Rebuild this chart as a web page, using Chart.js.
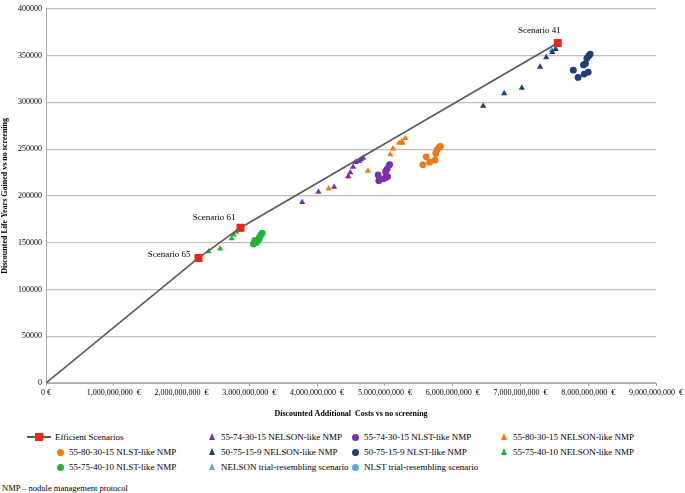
<!DOCTYPE html>
<html>
<head>
<meta charset="utf-8">
<script src="https://cdn.jsdelivr.net/npm/chart.js@4.4.0/dist/chart.umd.min.js"></script>
<style>
  body { margin: 0; background: #fff; font-family: "Liberation Serif", "DejaVu Serif", serif; }
  #wrap { position: relative; width: 685px; height: 493px; overflow: hidden; }
  #chartBox { position: absolute; left: 0; top: 0; width: 685px; height: 419px; }
  .item { position: absolute; white-space: nowrap; font-size: 9px; line-height: 10px; color: #000; }
  .mk { position: absolute; }
  #note { position: absolute; left: 2px; top: 483px; font-size: 8.5px; color: #000; }
</style>
</head>
<body>
<div id="wrap">
  <div id="chartBox"><canvas id="costChart"></canvas></div>
  <div id="legend"></div>
  <div id="note">NMP – nodule management protocol</div>
</div>
<script>
// 数据: [成本 €, 获得的生命年]
const efficientScenarios = [[0, 0], [2.25e9, 133700], [2.87e9, 166000], [7.55e9, 363500]];
const scenarioLabels = ['', 'Scenario 65', 'Scenario 61', 'Scenario 41'];

const nelson55743015 = [[3.78e9, 193200], [4.02e9, 204200], [4.25e9, 209500], [4.46e9, 220700], [4.49e9, 225000],
  [4.53e9, 231000], [4.57e9, 236000], [4.62e9, 237200], [4.65e9, 239000], [4.68e9, 240700]];
const nlst55743015 = [[4.90e9, 222400], [4.91e9, 216300], [4.98e9, 218200], [5.01e9, 219500], [5.04e9, 220700],
  [5.01e9, 225800], [5.03e9, 228400], [5.07e9, 233400]];
const nelson55803015 = [[4.17e9, 207700], [4.46e9, 220700], [4.75e9, 226600], [5.08e9, 244200], [5.12e9, 250500],
  [5.21e9, 256500], [5.25e9, 258200], [5.26e9, 256500], [5.30e9, 261600]];
const nlst55803015 = [[5.56e9, 233200], [5.61e9, 241800], [5.66e9, 236000], [5.74e9, 238200], [5.75e9, 245300],
  [5.77e9, 249200], [5.80e9, 251900], [5.82e9, 253000]];
const nelson5075159 = [[6.45e9, 296100], [6.76e9, 309500], [7.02e9, 315500], [7.29e9, 337900], [7.38e9, 348100],
  [7.47e9, 353700], [7.52e9, 356800]];
const nlst5075159 = [[7.78e9, 334400], [7.85e9, 326600], [7.94e9, 330200], [8.00e9, 332300], [7.93e9, 340000],
  [7.96e9, 341400], [7.98e9, 347100], [8.01e9, 349800], [8.03e9, 351600]];
const nelson55754010 = [[2.40e9, 140500], [2.57e9, 143500], [2.74e9, 154400], [2.77e9, 158400], [2.81e9, 161600],
  [2.84e9, 163400]];
const nlst55754010 = [[3.06e9, 148700], [3.10e9, 149800], [3.08e9, 152300], [3.14e9, 153400], [3.15e9, 155800],
  [3.17e9, 158200], [3.19e9, 160300], [3.12e9, 151600]];
const nelsonTrial = [[7.46e9, 355800]];
const nlstTrial = [[5.05e9, 231300]];

const xTicks = [0, 1e9, 2e9, 3e9, 4e9, 5e9, 6e9, 7e9, 8e9, 9e9];
const yTicks = [0, 50000, 100000, 150000, 200000, 250000, 300000, 350000, 400000];

// 颜色
const C = {
  red: '#e8291c', line: '#595959', purple: '#7b2fb0', orange: '#f07a10',
  navy: '#1f3f78', green: '#24b13a', lightBlue: '#5aa9df'
};

const toPts = arr => arr.map(p => ({ x: p[0], y: p[1] }));

// 系列定义（也用于图例）
const series = [
  { label: '55-74-30-15 NELSON-like NMP', data: nelson55743015, color: C.purple, style: 'triangle' },
  { label: '55-74-30-15 NLST-like NMP', data: nlst55743015, color: C.purple, style: 'circle' },
  { label: '55-80-30-15 NELSON-like NMP', data: nelson55803015, color: C.orange, style: 'triangle' },
  { label: '55-80-30-15 NLST-like NMP', data: nlst55803015, color: C.orange, style: 'circle' },
  { label: '50-75-15-9 NELSON-like NMP', data: nelson5075159, color: C.navy, style: 'triangle' },
  { label: '50-75-15-9 NLST-like NMP', data: nlst5075159, color: C.navy, style: 'circle' },
  { label: '55-75-40-10 NELSON-like NMP', data: nelson55754010, color: C.green, style: 'triangle' },
  { label: '55-75-40-10 NLST-like NMP', data: nlst55754010, color: C.green, style: 'circle' },
  { label: 'NELSON trial-resembling scenario', data: nelsonTrial, color: C.lightBlue, style: 'triangle' },
  { label: 'NLST trial-resembling scenario', data: nlstTrial, color: C.lightBlue, style: 'circle' }
];

const datasets = [{
  label: 'Efficient Scenarios',
  data: toPts(efficientScenarios),
  showLine: true,
  borderColor: C.line,
  borderWidth: 1.6,
  pointStyle: 'rect',
  pointRadius: efficientScenarios.map((p, i) => i === 0 ? 0 : 4.5),
  pointBackgroundColor: C.red,
  pointBorderColor: C.red,
  order: 0
}].concat(series.map((s, i) => ({
  label: s.label,
  data: toPts(s.data),
  showLine: false,
  pointStyle: s.style,
  pointRadius: s.style === 'triangle' ? 3.6 : 3.4,
  pointBackgroundColor: s.color,
  pointBorderColor: s.color,
  pointBorderWidth: 0,
  order: i + 1
})));

// 场景标签
const labelOffsets = { 1: [-8, -3, 'right'], 2: [-5, -10, 'right'], 3: [3, -12, 'right'] };
const scenarioLabelPlugin = {
  id: 'scenarioLabels',
  afterDatasetsDraw(chart) {
    const ctx = chart.ctx;
    const xs = chart.scales.x, ys = chart.scales.y;
    ctx.save();
    ctx.font = '9px "Liberation Serif", serif';
    ctx.fillStyle = '#000';
    ctx.textBaseline = 'middle';
    efficientScenarios.forEach((p, i) => {
      if (!scenarioLabels[i]) return;
      const off = labelOffsets[i];
      ctx.textAlign = off[2];
      ctx.fillText(scenarioLabels[i], xs.getPixelForValue(p[0]) + off[0], ys.getPixelForValue(p[1]) + off[1]);
    });
    ctx.restore();
  }
};

const tickFont = { family: '"Liberation Serif", serif', size: 8 };
const titleFont = { family: '"Liberation Serif", serif', size: 8, weight: 'bold' };

new Chart(document.getElementById('costChart'), {
  type: 'scatter',
  data: { datasets },
  options: {
    responsive: true,
    maintainAspectRatio: false,
    animation: false,
    layout: { padding: { top: 3, right: 27, left: 0, bottom: 0 } },
    plugins: { legend: { display: false }, tooltip: { enabled: false } },
    scales: {
      x: {
        type: 'linear', min: 0, max: 9e9,
        afterBuildTicks: s => { s.ticks = xTicks.map(v => ({ value: v })); },
        afterFit: s => { s.height = 36; },
        ticks: {
          font: tickFont, color: '#000', maxRotation: 0, autoSkip: false, padding: 2,
          callback: v => v === 0 ? '0 €' : v.toLocaleString('en-US') + '  €'
        },
        grid: { drawOnChartArea: false, drawTicks: true, tickLength: 3, color: '#a6a6a6' },
        border: { color: '#a6a6a6' },
        title: { display: true, text: 'Discounted Additional  Costs vs no screening', font: titleFont, color: '#000', padding: { top: 6, bottom: 0 } }
      },
      y: {
        type: 'linear', min: 0, max: 400000,
        afterBuildTicks: s => { s.ticks = yTicks.map(v => ({ value: v })); },
        afterFit: s => { s.width = 46; },
        ticks: { font: tickFont, color: '#000', padding: 4, callback: v => String(v) },
        grid: { color: '#bfbfbf', lineWidth: 1.2, drawTicks: false },
        border: { color: '#a6a6a6' },
        title: { display: true, text: 'Discounted Life Years Gained vs no screening', font: titleFont, color: '#000', padding: { top: 0, bottom: 2 } }
      }
    }
  },
  plugins: [scenarioLabelPlugin]
});

// 图例
const legendBox = document.getElementById('legend');
const colX = [27, 209, 352, 501];
const rowY = [432, 447, 462];
function addLegendItem(idx, label, color, style) {
  const col = idx % 4, row = Math.floor(idx / 4);
  const el = document.createElement('div');
  el.className = 'item';
  // 第二行以后的第一列标记偏右
  el.style.left = (col === 0 && row > 0 ? 57 : colX[col]) + 'px';
  el.style.top = rowY[row] + 'px';
  let mk = '';
  if (style === 'line') {
    mk = '<div class="mk" style="left:0;top:4px;width:24px;height:2px;background:' + C.line + '"></div>' +
         '<div class="mk" style="left:8px;top:1px;width:8px;height:8px;background:' + C.red + '"></div>';
  } else if (style === 'triangle') {
    mk = '<div class="mk" style="left:0;top:1px;width:0;height:0;border-left:3.5px solid transparent;border-right:3.5px solid transparent;border-bottom:7px solid ' + color + '"></div>';
  } else {
    mk = '<div class="mk" style="left:0;top:1.5px;width:7px;height:7px;border-radius:50%;background:' + color + '"></div>';
  }
  const tx = style === 'line' ? 28 : 12;
  el.innerHTML = mk + '<span style="position:absolute;left:' + tx + 'px;top:0">' + label + '</span>';
  el.style.width = '160px';
  el.style.height = '10px';
  legendBox.appendChild(el);
}
addLegendItem(0, 'Efficient Scenarios', C.red, 'line');
series.forEach((s, i) => addLegendItem(i + 1, s.label, s.color, s.style));
</script>
</body>
</html>
